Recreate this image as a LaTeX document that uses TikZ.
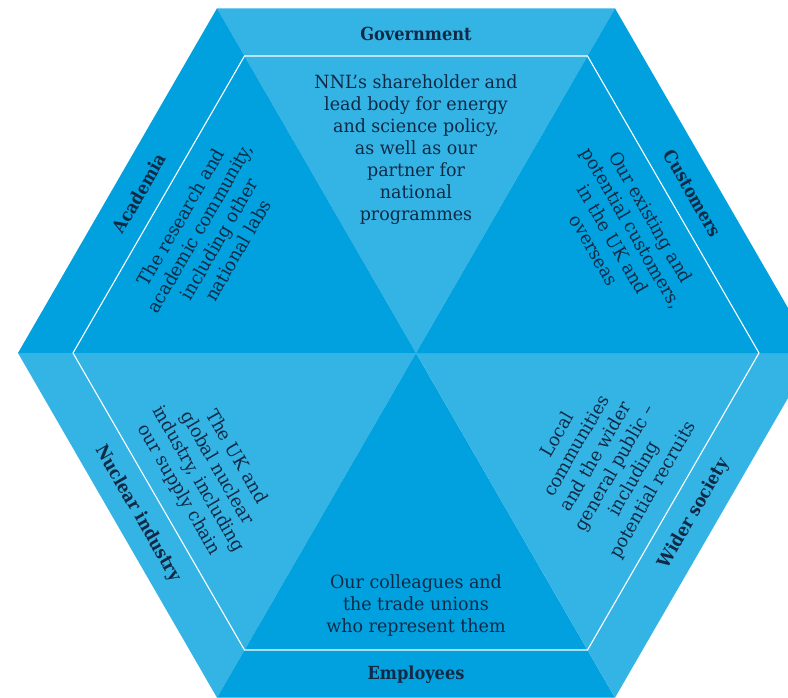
\documentclass[tikz,border=0pt]{standalone}
\usepackage{fontspec}
\setmainfont{DejaVu Serif}[FakeStretch=0.96]
\newfontfamily\labelfont{DejaVu Serif}[FakeStretch=0.9]
\definecolor{lightb}{RGB}{52,180,229}
\definecolor{darkb}{RGB}{0,161,222}
\definecolor{ink}{RGB}{16,42,70}
\tikzset{
  bandlabel/.style={font=\labelfont\bfseries\fontsize{18}{22}\selectfont, text=ink,
    inner sep=0pt, text height=13.1pt, text depth=0pt, anchor=center},
  desc/.style={font=\fontsize{18.2}{22}\selectfont, text=ink, inner sep=0pt, align=center},
  edgeline/.style={white, line width=1.1pt, line join=miter}
}
\begin{document}
\begin{tikzpicture}[x=1pt,y=-1pt]
\useasboundingbox (0,0) rectangle (788,697);
\clip (0,0) rectangle (788,697);
% centre and vertices
\coordinate (C) at (416,353);
\coordinate (O0) at (814,353);
\coordinate (O1) at (615,8.3);
\coordinate (O2) at (217,8.3);
\coordinate (O3) at (18,353);
\coordinate (O4) at (217,697.7);
\coordinate (O5) at (615,697.7);
\coordinate (I0) at (759,353);
\coordinate (I1) at (587.5,56);
\coordinate (I2) at (244.5,56);
\coordinate (I3) at (73,353);
\coordinate (I4) at (244.5,650);
\coordinate (I5) at (587.5,650);
% sectors
\fill[lightb] (C) -- (O1) -- (O2) -- cycle;
\fill[darkb]  (C) -- (O2) -- (O3) -- cycle;
\fill[lightb] (C) -- (O3) -- (O4) -- cycle;
\fill[darkb]  (C) -- (O4) -- (O5) -- cycle;
\fill[lightb] (C) -- (O5) -- (O0) -- cycle;
\fill[darkb]  (C) -- (O0) -- (O1) -- cycle;
% inner hexagon outline
\draw[edgeline] (I0) -- (I1) -- (I2) -- (I3) -- (I4) -- (I5) -- cycle;
% band labels
\node[bandlabel] (gov) at (416,33.5) {Government};
\node[bandlabel] (emp) at (416,672.5) {Employees};
\node[bandlabel, rotate=60] (aca) at (139.3,193.25) {Academia};
\node[bandlabel, rotate=-60] (cus) at (692.7,193.25) {Customers};
\node[bandlabel, rotate=-60] (nuc) at (139.3,512.75) {Nuclear industry};
\node[bandlabel, rotate=60] (wid) at (692.7,512.75) {Wider society};
% descriptions
\node[desc, anchor=north] (govd) at (416,74)
  {NNL’s shareholder and\\lead body for energy\\and science policy,\\as well as our\\partner for\\national\\programmes};
\node[desc, anchor=north, rotate=60] (acad) at (174.4,213.5)
  {The research and\\academic community,\\including other\\national labs};
\node[desc, anchor=north, rotate=-60] (cusd) at (657.6,213.5)
  {Our existing and\\potential customers,\\in the UK and\\overseas};
\node[desc, anchor=south] (empd) at (416,636.3)
  {Our colleagues and\\the trade unions\\who represent them};
\node[desc, anchor=south, rotate=-60] (nucd) at (170.7,494.65)
  {The UK and\\global nuclear\\industry, including\\our supply chain};
\node[desc, anchor=south, rotate=60] (widd) at (661.3,494.65)
  {Local\\communities\\and the wider\\general public –\\including\\potential recruits};
\end{tikzpicture}
\end{document}
